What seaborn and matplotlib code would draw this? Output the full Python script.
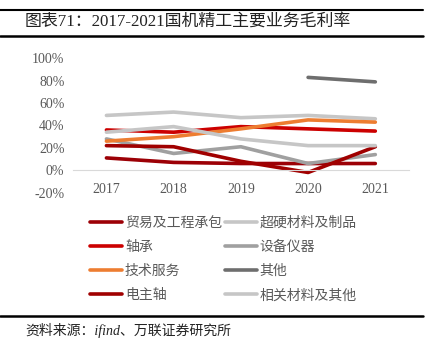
import numpy as np
import pandas as pd
import matplotlib
matplotlib.use('Agg')
import matplotlib.pyplot as plt
import seaborn as sns
from matplotlib.lines import Line2D

years = ['2017', '2018', '2019', '2020', '2021']

trade = [11, 7, 6, 6, 6]
superhard = [49, 52, 47, 49, 46]
bearing = [36, 34, 39, 37, 35]
equipment = [28, 15, 21, 6, 14]
service = [26, 30, 37, 45, 43]
other = [np.nan, np.nan, np.nan, 83, 79]
spindle = [22, 21, 8, -2, 21]
related = [34, 39, 28, 22, 22]

names = ['贸易及工程承包', '超硬材料及制品', '轴承', '设备仪器', '技术服务', '其他', '电主轴', '相关材料及其他']
series = [trade, superhard, bearing, equipment, service, other, spindle, related]
colors = ['#9C0006', '#C6C6C6', '#CC0000', '#A0A0A0', '#ED7D31', '#6E6E6E', '#A00000', '#C6C6C6']

rows = []
for name, vals in zip(names, series):
    for i, v in enumerate(vals):
        rows.append({'year': i, 'series': name, 'value': v})
df = pd.DataFrame(rows).dropna()

sns.set_style('white')
plt.rcParams['font.family'] = ['Liberation Serif', 'Noto Sans CJK SC', 'DejaVu Sans']

fig = plt.figure(figsize=(4.44, 3.56), dpi=100)
ax = fig.add_axes([0.164, 0.459, 0.757, 0.377])

palette = dict(zip(names, colors))
sns.lineplot(data=df, x='year', y='value', hue='series', hue_order=names,
             palette=palette, linewidth=2.6, ax=ax, legend=False, sort=True)

ax.set_xlim(-0.5, 4.5)
ax.set_ylim(-20, 100)
ax.set_yticks(np.arange(-20, 101, 20))
ax.set_yticklabels([f'{v}%' for v in range(-20, 101, 20)])
ax.set_xticks(range(5))
ax.set_xticklabels(years)
ax.set_xticks(np.arange(-0.5, 4.6, 1), minor=True)
ax.tick_params(axis='x', which='major', length=0, pad=9, labelsize=10, colors='#595959')
ax.tick_params(axis='x', which='minor', length=4, color='#D9D9D9', width=0.8, direction='out')
ax.tick_params(axis='y', length=0, pad=6, labelsize=10, colors='#595959')
ax.set_xlabel('')
ax.set_ylabel('')
for s in ['top', 'right', 'left']:
    ax.spines[s].set_visible(False)
ax.spines['bottom'].set_position(('data', 0))
ax.spines['bottom'].set_color('#D9D9D9')
ax.spines['bottom'].set_linewidth(0.8)

order = [0, 2, 4, 6, 1, 3, 5, 7]
handles = [Line2D([0], [0], color=colors[i], lw=2.6) for i in order]
labels = [names[i] for i in order]
fig.legend(handles, labels, ncol=2, loc='upper left', bbox_to_anchor=(0.175, 0.4265),
           frameon=False, fontsize=10, handlelength=2.3, handletextpad=0.2,
           columnspacing=0.2, labelspacing=0.78, labelcolor='#595959')

fig.add_artist(Line2D([0, 0.953], [0.972, 0.972], color='black', lw=1.5))
fig.add_artist(Line2D([0, 0.953], [0.899, 0.899], color='black', lw=1.8))
fig.add_artist(Line2D([0, 0.953], [0.112, 0.112], color='black', lw=1.8))
fig.text(0.056, 0.937, '图表71：2017-2021国机精工主要业务毛利率', fontsize=12.2,
         va='center', ha='left', color='#222222')
fig.text(0.056, 0.072, '资料来源：ifind、万联证券研究所', fontsize=10, style='italic',
         va='center', ha='left', color='#222222')

fig.savefig('out.png', dpi=100)
